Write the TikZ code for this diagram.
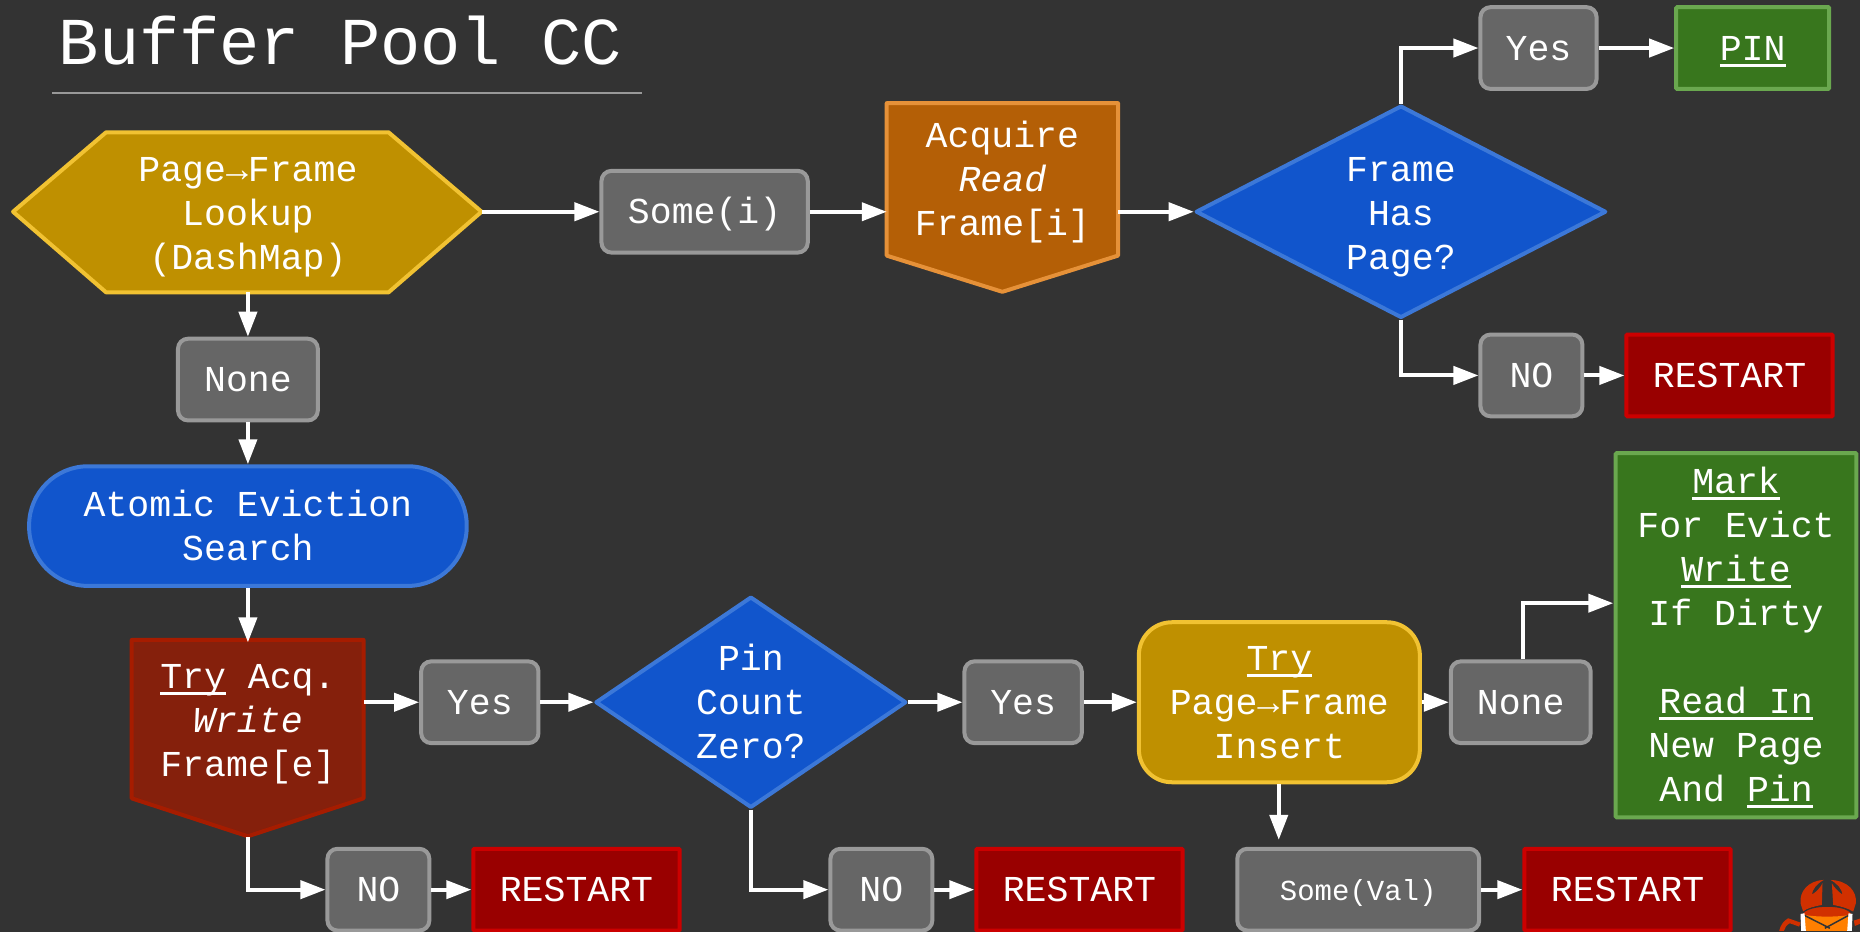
\documentclass[tikz,border=0pt]{standalone}
\usepackage{fontspec}
\setmainfont{Liberation Mono}
\usetikzlibrary{arrows.meta,shapes.geometric,calc}
\definecolor{pagebg}{HTML}{333333}
\definecolor{grayfill}{HTML}{666666}
\definecolor{graydraw}{HTML}{999999}
\definecolor{goldfill}{HTML}{BF9000}
\definecolor{golddraw}{HTML}{F1C232}
\definecolor{orangefill}{HTML}{B45F06}
\definecolor{orangedraw}{HTML}{E69138}
\definecolor{bluefill}{HTML}{1155CC}
\definecolor{bluedraw}{HTML}{3C78D8}
\definecolor{brickfill}{HTML}{85200C}
\definecolor{brickdraw}{HTML}{A61C00}
\definecolor{redfill}{HTML}{990000}
\definecolor{reddraw}{HTML}{CC0000}
\definecolor{greenfill}{HTML}{38761D}
\definecolor{greendraw}{HTML}{6AA84F}
\definecolor{crabred}{HTML}{D13000}
\definecolor{craborange}{HTML}{FF7F00}
\newcommand\uln[1]{\setbox0=\hbox{#1}\rlap{\vrule width\wd0 height -3.5pt depth 6.5pt}\box0 }
\newcommand\labstrut{\vrule width 0pt height 34pt depth 10pt\relax}
\newcommand\lowstrut{\vrule width 0pt height 38pt depth 10pt\relax}
\tikzset{
  base/.style={align=center,text=white,inner sep=0pt,line width=4pt,
    font=\fontsize{36.5}{44}\selectfont},
  oneline/.style={execute at begin node=\labstrut},
  sz/.style 2 args={minimum width={(#1)*1.1862pt-2.5pt},minimum height={(#2)*1.1862pt-2.5pt}},
  graybox/.style={base,oneline,draw=graydraw,fill=grayfill,rounded corners=10pt},
  redbox/.style={base,oneline,draw=reddraw,fill=redfill,rounded corners=1pt},
  greenbox/.style={base,draw=greendraw,fill=greenfill,rounded corners=1pt},
  pillblue/.style={base,draw=bluedraw,fill=bluefill,rounded corners=59pt},
  goldround/.style={base,draw=golddraw,fill=goldfill,rounded corners=33pt},
  dia/.style={base,shape=diamond,draw=bluedraw,fill=bluefill,line join=round},
  polytext/.style={base,outer sep=0pt},
  polyshape/.style={line width=4pt,line join=round},
  conn/.style={draw=white,line width=4pt,-{Triangle[length=25pt,width=18pt]}}
}
\begin{document}
\begin{tikzpicture}[x=1.1862pt,y=-1.1862pt]
\useasboundingbox (0,0) rectangle (1568,784.85);
\fill[pagebg] (-3,-3) rectangle (1571,790);

% title
\node[anchor=base west,text=white,inner sep=0pt,font=\fontsize{67}{70}\selectfont] (title) at (49.5,54) {Buffer Pool CC};
\coordinate (rulel) at (44,78.5);
\coordinate (ruler) at (541.5,78.5);
\draw[graydraw,line width=2.2pt] (rulel) -- (ruler);

% polygons drawn behind their text nodes
\draw[polyshape,draw=golddraw,fill=goldfill] (11,178.5) -- (89.5,111.5) -- (327.5,111.5) -- (406,178.5) -- (327.5,246.5) -- (89.5,246.5) -- cycle;
\draw[polyshape,draw=orangedraw,fill=orangefill] (747.5,87) -- (942.5,87) -- (942.5,215.5) -- (845,246) -- (747.5,215.5) -- cycle;
\draw[polyshape,draw=brickdraw,fill=brickfill] (111,539.5) -- (306.5,539.5) -- (306.5,673) -- (209,705) -- (111,673) -- cycle;

% nodes
\node[polytext,sz={397}{137}] (hex) at (209,178.5) {\lowstrut Page→Frame\\Lookup\\(DashMap)\labstrut};
\node[polytext,sz={197}{130}] (acq) at (845,151) {\labstrut Acquire\\\itshape Read\\Frame[i]\labstrut};
\coordinate (acqtip) at (845,247);
\node[polytext,sz={198}{134}] (tryacq) at (209,607.5) {\labstrut\uln{Try} Acq.\\\itshape Write\\Frame[e]\labstrut};
\coordinate (tryacqtip) at (209,706);

\node[graybox,sz={120}{71}] (none1) at (209,320) {None};
\node[graybox,sz={176}{71}] (some) at (594,178.5) {Some(i)};
\node[graybox,sz={100}{71}] (yes1) at (1297,40.5) {Yes};
\node[greenbox,oneline,sz={131}{71}] (pin) at (1477.5,40.5) {\uln{PIN}};
\node[graybox,sz={88}{71}] (no1) at (1291,316.5) {NO};
\node[redbox,sz={176}{71}] (restart1) at (1458,316.5) {RESTART};
\node[dia,minimum width={346*1.1862pt},minimum height={179*1.1862pt},aspect=1.93] (frame) at (1181,178.5) {\lowstrut Frame\\Has\\Page?\labstrut};

\node[pillblue,sz={371}{103}] (atomic) at (209,443.5) {\labstrut Atomic Eviction\\Search\labstrut};
\node[graybox,sz={101}{71}] (yes2) at (404.5,592) {Yes};
\node[dia,minimum width={262*1.1862pt},minimum height={178*1.1862pt},aspect=1.47] (pinzero) at (633,592) {\labstrut Pin\\Count\\Zero?\labstrut};
\node[graybox,sz={101}{71}] (yes3) at (862.5,592) {Yes};
\node[goldround,sz={239}{137}] (insert) at (1078.5,592) {\labstrut\uln{Try}\\Page→Frame\\Insert\labstrut};
\node[graybox,sz={120}{71}] (none2) at (1282,592) {None};
\node[greenbox,sz={205}{309}] (finish) at (1463.5,535.5) {\labstrut\uln{Mark}\\For Evict\\\uln{Write}\\If Dirty\\~\\\uln{Read In}\\New Page\\And \uln{Pin}\labstrut};
\coordinate (finishin) at (1360,508.5);
\coordinate (insertout) at (1078,708);

\node[graybox,sz={88}{71}] (no2) at (319,750) {NO};
\node[redbox,sz={176}{71}] (restart2) at (486,750) {RESTART};
\node[graybox,sz={88}{71}] (no3) at (743,750) {NO};
\node[redbox,sz={176}{71}] (restart3) at (910,750) {RESTART};
\node[graybox,sz={206}{71},font=\fontsize{29}{44}\selectfont,execute at begin node={\vrule width 0pt height 31.5pt depth 12.5pt\relax}] (someval) at (1145,750) {Some(Val)};
\node[redbox,sz={176}{71}] (restart4) at (1372,750) {RESTART};

% connectors
\draw[conn] (hex.east) -- (some.west);
\draw[conn] (some.east) -- (some.east -| acq.west);
\draw[conn] (acq.east |- frame.west) -- (frame.west);
\draw[conn] (frame.north) |- (yes1.west);
\draw[conn] (yes1.east) -- (pin.west);
\draw[conn] (frame.south) |- (no1.west);
\draw[conn] (no1.east) -- (restart1.west);
\draw[conn] (hex.south) -- (none1.north);
\draw[conn] (none1.south) -- (atomic.north);
\draw[conn] (atomic.south) -- (tryacq.north);
\draw[conn] (tryacq.east |- yes2.west) -- (yes2.west);
\draw[conn] (yes2.east) -- (pinzero.west);
\draw[conn] (tryacqtip) |- (no2.west);
\draw[conn] (no2.east) -- (restart2.west);
\draw[conn] (pinzero.east) -- (yes3.west);
\draw[conn] (pinzero.south) |- (no3.west);
\draw[conn] (no3.east) -- (restart3.west);
\draw[conn] (yes3.east) -- (insert.west);
\draw[conn] (insert.east) -- (none2.west);
\draw[conn] (none2.north -| 1284,0) |- (finishin);
\draw[conn] (insert.south -| insertout) -- (insertout);
\draw[conn] (someval.east) -- (restart4.west);

% crab logo (zoom units: one third of a pixel, from 1760,860)
\begin{scope}[x=0.3333pt,y=-0.3333pt,shift={(1760*3,860*3)}]
  \fill[crabred] (58,213) .. controls (62,195) and (72,182) .. (85,175) -- (122,188) -- (118,200) -- (90,190) .. controls (80,195) and (75,203) .. (72,213) -- cycle;
  \fill[crabred] (282,182) -- (300,176) -- (300,192) -- (285,198) -- cycle;
  % claws
  \fill[crabred] (122,130) .. controls (118,95) and (145,62) .. (192,60) .. controls (170,72) and (158,88) .. (156,104) .. controls (170,96) and (182,82) .. (188,70) -- (186,135) .. controls (160,140) and (140,146) .. (130,155) -- cycle;
  \fill[crabred] (288,130) .. controls (292,95) and (265,62) .. (212,60) .. controls (234,72) and (246,88) .. (248,104) .. controls (236,96) and (222,82) .. (216,70) -- (220,135) .. controls (246,140) and (266,146) .. (280,155) -- cycle;
  % body
  \filldraw[fill=crabred,draw=pagebg,line width=1pt] (128,160) .. controls (150,132) and (255,132) .. (275,160) -- (275,180) -- (128,180) -- cycle;
  \fill[craborange] (132,164) .. controls (160,172) and (245,172) .. (270,164) -- (270,213) -- (132,213) -- cycle;
  \draw[pagebg,line width=1.5pt] (135,167) -- (210,205) (265,167) -- (195,205);
  \fill[white] (122,162) -- (134,160) -- (138,213) -- (124,213) -- cycle;
  \fill[white] (266,160) -- (278,162) -- (276,213) -- (262,213) -- cycle;
\end{scope}
\end{tikzpicture}
\end{document}
